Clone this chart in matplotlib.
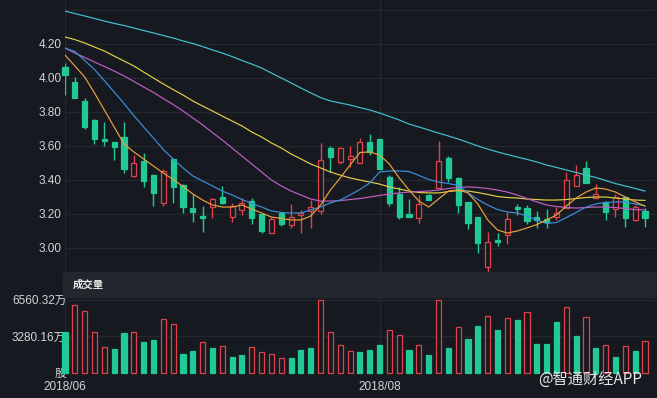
import numpy as np
import matplotlib.pyplot as plt
from matplotlib.patches import Rectangle

# daily candles, price in yuan
opens = [4.066, 3.975, 3.865, 3.753, 3.643, 3.622, 3.651, 3.425, 3.512, 3.431,
         3.263, 3.522, 3.371, 3.237, 3.188, 3.243, 3.302, 3.184, 3.225, 3.278,
         3.200, 3.086, 3.204, 3.135, 3.194, 3.218, 3.220, 3.590, 3.504, 3.524,
         3.498, 3.622, 3.639, 3.419, 3.318, 3.198, 3.175, 3.312, 3.351, 3.531,
         3.410, 3.269, 3.180, 2.890, 3.047, 3.076, 3.243, 3.233, 3.180, 3.169,
         3.180, 3.233, 3.365, 3.469, 3.292, 3.269, 3.227, 3.302, 3.165, 3.218]
closes = [4.020, 3.880, 3.714, 3.639, 3.628, 3.596, 3.466, 3.498, 3.396, 3.325,
          3.455, 3.357, 3.243, 3.214, 3.178, 3.286, 3.263, 3.247, 3.267, 3.175,
          3.102, 3.171, 3.141, 3.184, 3.208, 3.239, 3.520, 3.537, 3.590, 3.541,
          3.622, 3.567, 3.465, 3.263, 3.180, 3.184, 3.257, 3.282, 3.512, 3.410,
          3.253, 3.149, 3.031, 3.037, 3.037, 3.171, 3.227, 3.161, 3.165, 3.155,
          3.204, 3.400, 3.429, 3.384, 3.318, 3.214, 3.302, 3.175, 3.243, 3.175]
highs = [4.090, 4.008, 3.880, 3.757, 3.741, 3.625, 3.740, 3.545, 3.557, 3.435,
         3.467, 3.525, 3.375, 3.316, 3.247, 3.292, 3.366, 3.263, 3.292, 3.292,
         3.200, 3.184, 3.204, 3.257, 3.224, 3.282, 3.616, 3.600, 3.596, 3.600,
         3.645, 3.669, 3.639, 3.429, 3.361, 3.286, 3.312, 3.318, 3.631, 3.541,
         3.415, 3.269, 3.180, 3.096, 3.090, 3.214, 3.261, 3.253, 3.220, 3.229,
         3.239, 3.449, 3.488, 3.510, 3.376, 3.275, 3.320, 3.302, 3.253, 3.235]
lows = [3.900, 3.880, 3.700, 3.610, 3.600, 3.520, 3.440, 3.420, 3.360, 3.249,
        3.249, 3.267, 3.208, 3.155, 3.096, 3.178, 3.260, 3.155, 3.194, 3.140,
        3.086, 3.086, 3.129, 3.120, 3.086, 3.116, 3.200, 3.449, 3.497, 3.478,
        3.498, 3.547, 3.465, 3.245, 3.171, 3.184, 3.149, 3.282, 3.351, 3.390,
        3.204, 3.110, 2.972, 2.855, 3.013, 3.024, 3.194, 3.139, 3.116, 3.116,
        3.163, 3.233, 3.365, 3.384, 3.292, 3.165, 3.180, 3.125, 3.159, 3.125]

# moving averages
ma5 = [4.135, 4.071, 4.006, 3.912, 3.812, 3.712, 3.612, 3.565, 3.524, 3.482,
       3.441, 3.403, 3.362, 3.318, 3.282, 3.253, 3.241, 3.241, 3.253, 3.229,
       3.206, 3.182, 3.174, 3.165, 3.165, 3.188, 3.253, 3.341, 3.412, 3.488,
       3.562, 3.565, 3.547, 3.494, 3.412, 3.341, 3.276, 3.241, 3.288, 3.335,
       3.341, 3.324, 3.259, 3.165, 3.106, 3.088, 3.100, 3.118, 3.138, 3.165,
       3.194, 3.247, 3.294, 3.329, 3.353, 3.347, 3.329, 3.300, 3.271, 3.247]
ma10 = [4.176, 4.156, 4.103, 4.050, 3.985, 3.918, 3.850, 3.779, 3.712, 3.647,
        3.579, 3.524, 3.471, 3.424, 3.394, 3.365, 3.335, 3.312, 3.285, 3.262,
        3.241, 3.218, 3.209, 3.206, 3.206, 3.224, 3.241, 3.265, 3.282, 3.312,
        3.344, 3.382, 3.447, 3.453, 3.453, 3.450, 3.427, 3.403, 3.388, 3.379,
        3.368, 3.324, 3.285, 3.253, 3.226, 3.212, 3.206, 3.188, 3.165, 3.144,
        3.150, 3.179, 3.209, 3.241, 3.259, 3.268, 3.271, 3.271, 3.259, 3.247]
ma20 = [4.176, 4.147, 4.121, 4.094, 4.068, 4.041, 4.012, 3.980, 3.947, 3.915,
        3.879, 3.844, 3.806, 3.765, 3.724, 3.679, 3.635, 3.588, 3.541, 3.494,
        3.447, 3.400, 3.365, 3.335, 3.312, 3.288, 3.276, 3.276, 3.279, 3.285,
        3.291, 3.300, 3.309, 3.318, 3.324, 3.329, 3.332, 3.335, 3.341, 3.350,
        3.356, 3.359, 3.356, 3.350, 3.341, 3.329, 3.312, 3.291, 3.271, 3.253,
        3.244, 3.238, 3.235, 3.238, 3.241, 3.241, 3.238, 3.232, 3.226, 3.224]
ma30 = [4.241, 4.226, 4.206, 4.182, 4.159, 4.129, 4.100, 4.071, 4.035, 4.000,
        3.965, 3.932, 3.900, 3.865, 3.835, 3.806, 3.776, 3.747, 3.718, 3.682,
        3.653, 3.618, 3.588, 3.553, 3.524, 3.494, 3.471, 3.447, 3.429, 3.412,
        3.400, 3.388, 3.376, 3.359, 3.347, 3.335, 3.326, 3.324, 3.324, 3.332,
        3.338, 3.335, 3.326, 3.315, 3.303, 3.297, 3.294, 3.288, 3.285, 3.282,
        3.282, 3.285, 3.291, 3.297, 3.300, 3.300, 3.294, 3.288, 3.282, 3.280]
ma60 = [4.394, 4.379, 4.365, 4.350, 4.335, 4.321, 4.309, 4.294, 4.279, 4.265,
        4.250, 4.235, 4.218, 4.203, 4.185, 4.165, 4.147, 4.126, 4.103, 4.082,
        4.059, 4.029, 4.000, 3.971, 3.941, 3.912, 3.885, 3.865, 3.853, 3.841,
        3.826, 3.812, 3.794, 3.774, 3.753, 3.729, 3.712, 3.694, 3.676, 3.659,
        3.641, 3.621, 3.600, 3.582, 3.565, 3.550, 3.535, 3.521, 3.506, 3.488,
        3.474, 3.459, 3.444, 3.429, 3.415, 3.397, 3.379, 3.365, 3.350, 3.335]

# volume in 万股, and whether the bar is drawn red
volume = [3613, 6066, 5554, 3613, 2292, 2139, 3523, 3613, 2741, 2948,
          4781, 4332, 1636, 1905, 2741, 2202, 2382, 1366, 1546, 2265,
          1842, 1663, 1330, 1303, 1995, 2202, 6560.32, 3667, 2444, 1932,
          1842, 2049, 2471, 3793, 3343, 2049, 2498, 1600, 6480, 2202,
          4062, 3011, 4179, 5051, 3793, 4871, 4718, 5410, 2588, 2588,
          4511, 5859, 3307, 4988, 2175, 2444, 1366, 2355, 1959, 2831]
vol_red = [0, 1, 1, 1, 1, 0, 0, 1, 0, 0, 1, 1, 0, 0, 1, 0, 1, 0, 0, 1,
           1, 1, 1, 0, 0, 0, 1, 1, 1, 1, 0, 0, 0, 1, 1, 0, 1, 0, 1, 0,
           1, 0, 0, 1, 0, 1, 0, 1, 0, 0, 0, 1, 0, 1, 0, 1, 0, 1, 0, 1]

date_pos = [0, 32]
date_labels = ['2018/06', '2018/08']
price_ticks = [3.0, 3.2, 3.4, 3.6, 3.8, 4.0, 4.2, 4.4]
vol_ticks = [0, 3280.16, 6560.32]
vol_labels = ['股', '3280.16万', '6560.32万']

BG = '#161a20'
BAND = '#23272d'
GRID = '#23282f'
TXT = '#d2d5d9'
UP = '#e0424b'
DOWN = '#21c994'
FONT = ['Liberation Sans', 'Noto Sans CJK SC', 'DejaVu Sans']
plt.rcParams['font.family'] = FONT

W, H = 657, 398
step = 9.83  # pixels per candle
fig = plt.figure(figsize=(W / 100, H / 100), dpi=100)
fig.patch.set_facecolor(BG)

ax = fig.add_axes([65 / W, 126 / H, 590 / W, 272 / H])
vax = fig.add_axes([65 / W, 25.5 / H, 590 / W, 75.5 / H])
for a in (ax, vax):
    a.set_facecolor(BG)
    for s in a.spines.values():
        s.set_visible(False)
    a.set_xlim(0, 590 / step)
    for p in date_pos:
        a.axvline(p, color=GRID, lw=1, zorder=0)

x = np.arange(len(opens))
o = np.array(opens)
c = np.array(closes)
up = c >= o

# candles
ax.vlines(x, lows, highs, colors=[UP if u else DOWN for u in up], lw=1, zorder=2)
body_lo = np.minimum(o, c)
body_h = np.maximum(np.abs(c - o), 0.006)
bars = ax.bar(x, body_h, bottom=body_lo, width=0.52, zorder=3,
              color=[BG if u else DOWN for u in up],
              edgecolor=[UP if u else DOWN for u in up], linewidth=0.9)
for b in bars:
    b.set_clip_on(False)

for ma, col in [(ma60, '#45c3d0'), (ma30, '#e3cf45'), (ma20, '#c25ec6'),
                (ma10, '#3e8ede'), (ma5, '#eda23a')]:
    ax.plot(x, ma, color=col, lw=0.85, zorder=4, solid_joinstyle='round')

ax.set_ylim(4.4588 - 272 / 170, 4.4588)
ax.set_yticks(price_ticks)
ax.set_yticklabels(['%.2f' % t if t < 4.3 else '' for t in price_ticks])
ax.yaxis.grid(True, color=GRID, lw=1)
ax.set_axisbelow(True)
ax.tick_params(axis='y', length=0, pad=2.5, labelsize=8.5, labelcolor=TXT)
ax.tick_params(axis='x', length=0, labelbottom=False)

# band with the volume title
fig.patches.append(Rectangle((63 / W, 101 / H), 594 / W, 25 / H,
                             transform=fig.transFigure, color=BAND, zorder=0))
fig.text(73 / W, (H - 285) / H, '成交量', color='#eeeeee', fontsize=7.5,
         fontweight='bold', va='center', ha='left',
         family=['Noto Sans CJK SC', 'DejaVu Sans'])

# volume
vbars = vax.bar(x, volume, width=0.52,
                color=[BG if r else DOWN for r in vol_red],
                edgecolor=[UP if r else DOWN for r in vol_red], linewidth=0.9)
for b in vbars:
    b.set_clip_on(False)
vax.set_ylim(0, 75.5 * 89.87)
vax.set_yticks(vol_ticks)
vax.set_yticklabels(vol_labels)
vax.yaxis.grid(True, color=GRID, lw=1)
vax.set_axisbelow(True)
vax.tick_params(axis='y', length=0, pad=-1, labelsize=8.5, labelcolor=TXT)
vax.set_xticks(date_pos)
vax.set_xticklabels(date_labels)
vax.tick_params(axis='x', length=0, pad=6, labelsize=8.5, labelcolor=TXT)

fig.text(538 / W, (H - 379) / H, '@智通财经APP', color='#e4e4e4', fontsize=11,
         va='center', ha='left', family=['Noto Sans CJK SC', 'DejaVu Sans'])

fig.savefig('out.png', dpi=100, facecolor=BG)
